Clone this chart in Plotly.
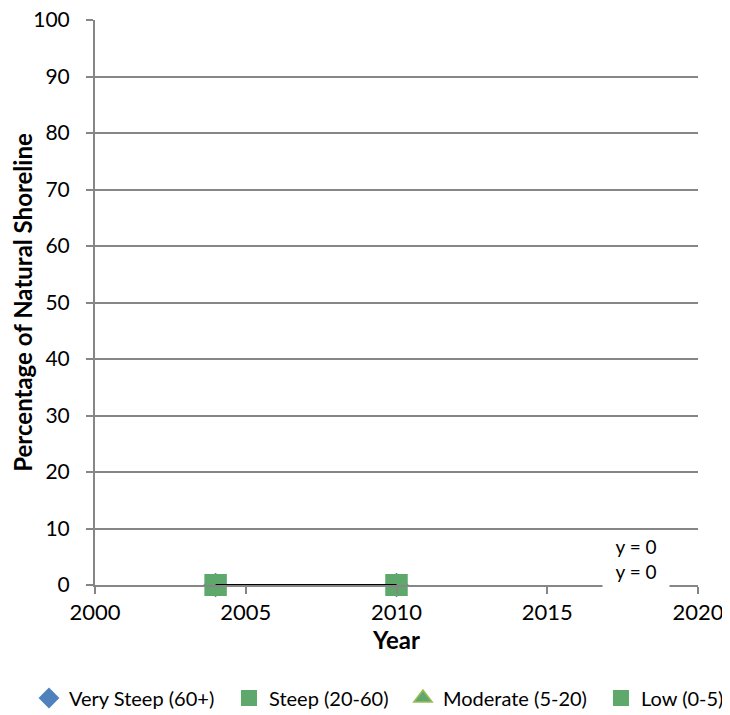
import plotly.graph_objects as go

years = [2004, 2010]
very_steep = [0, 0]
steep = [0, 0]
moderate = [0, 0]
low = [0, 0]
series_names = ["Very Steep (60+)", "Steep (20-60)", "Moderate (5-20)", "Low (0-5)"]
trend_labels = ["y = 0", "y = 0"]
trend_label_x = 2017.95
trend_label_y = 4.3

FONT = "Lato, Carlito, sans-serif"

# legend box left edges (paper coords) for the four legend entries
legend_x = [-0.1095, 0.2222, 0.5107, 0.8391]
legend_ids = ["legend", "legend2", "legend3", "legend4"]

symbols = ["diamond", "square", "triangle-up", "square"]
sizes = [19, 22, 16, 22]
colors = ["#4F81BD", "#5EA86C", "#5EA86C", "#5EA86C"]
line_colors = ["#4F81BD", "#5EA86C", "#9BBB59", "#5EA86C"]
line_widths = [0, 0, 1.5, 0]
data = [very_steep, steep, moderate, low]

fig = go.Figure()
for name, vals, sym, sz, col, lc, lw, lid in zip(series_names, data, symbols, sizes, colors,
                                                  line_colors, line_widths, legend_ids):
    fig.add_trace(go.Scatter(x=years, y=vals, name=name, mode="markers", legend=lid,
                             cliponaxis=False,
                             marker=dict(symbol=sym, size=sz, color=col,
                                         line=dict(color=lc, width=lw))))
# trendline
fig.add_trace(go.Scatter(x=years, y=very_steep, mode="lines", showlegend=False,
                         cliponaxis=False,
                         line=dict(color="black", width=2), hoverinfo="skip"))

fig.add_annotation(x=trend_label_x, y=trend_label_y, text="<br>".join(trend_labels),
                   showarrow=False, bgcolor="white", width=66, height=52, valign="top",
                   font=dict(family=FONT, size=19, color="black"), borderpad=0)

legend_common = dict(orientation="h", y=-0.2, yanchor="middle", xanchor="left",
                     font=dict(family=FONT, size=20, color="black"),
                     bgcolor="rgba(0,0,0,0)", borderwidth=0)

# Page body has an 8px margin, so the figure is sized/offset to compensate.
fig.update_layout(
    width=722, height=707,
    margin=dict(l=87, r=32, t=12, b=130, autoexpand=False),
    plot_bgcolor="white", paper_bgcolor="white",
    font=dict(family=FONT, size=21, color="black"),
    showlegend=True,
    legend=dict(x=legend_x[0], **legend_common),
    legend2=dict(x=legend_x[1], **legend_common),
    legend3=dict(x=legend_x[2], **legend_common),
    legend4=dict(x=legend_x[3], **legend_common),
)
fig.update_xaxes(range=[2000, 2020], dtick=5, showgrid=False, zeroline=False,
                 showline=True, linecolor="#868686", linewidth=2, automargin=False,
                 ticks="outside", ticklen=7, tickcolor="#868686", tickwidth=2,
                 ticklabeloverflow="allow",
                 tickfont=dict(family=FONT, size=22),
                 title=dict(text="<b>Year</b>", font=dict(family=FONT, size=24), standoff=6))
fig.update_yaxes(range=[0, 100], dtick=10, showgrid=True, gridcolor="#868686", gridwidth=2,
                 zeroline=False, showline=True, linecolor="#868686", linewidth=2, automargin=False,
                 ticks="outside", ticklen=7, tickcolor="#868686", tickwidth=2,
                 ticklabeloverflow="allow", ticklabelstandoff=12,
                 tickfont=dict(family=FONT, size=21),
                 title=dict(text="<b>Percentage of Natural Shoreline</b>",
                            font=dict(family=FONT, size=24), standoff=0))

fig.write_html("out.html")
